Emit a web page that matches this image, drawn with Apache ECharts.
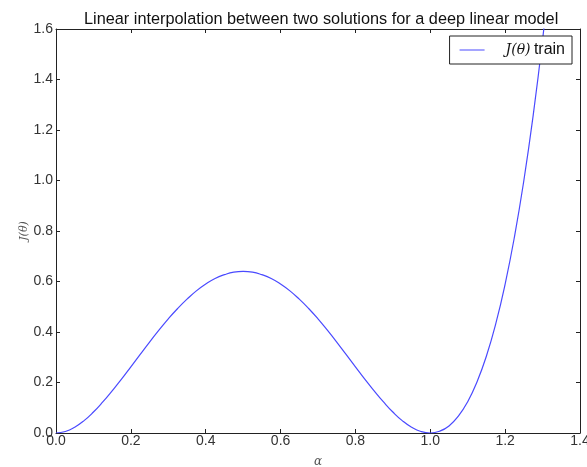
<!DOCTYPE html>
<html>
<head>
<meta charset="utf-8">
<script src="https://cdn.jsdelivr.net/npm/echarts@6/dist/echarts.min.js"></script>
<style>html,body{margin:0;padding:0;background:#fff;}#c{width:587px;height:467px;}</style>
</head>
<body>
<div id="c"></div>
<script>
const titleText = 'Linear interpolation between two solutions for a deep linear model';
const seriesName = 'J(θ) train';
const xTicks = [0.0, 0.2, 0.4, 0.6, 0.8, 1.0, 1.2, 1.4];
const yTicks = [0.0, 0.2, 0.4, 0.6, 0.8, 1.0, 1.2, 1.4, 1.6];
const alpha = [0, 0.025, 0.05, 0.075, 0.1, 0.125, 0.15, 0.175, 0.2, 0.225, 0.25, 0.275, 0.3, 0.325, 0.35, 0.375, 0.4, 0.425, 0.45, 0.475, 0.5,
  0.525, 0.55, 0.575, 0.6, 0.625, 0.65, 0.675, 0.7, 0.725, 0.75, 0.775, 0.8, 0.825, 0.85, 0.875, 0.9, 0.925, 0.95, 0.975, 1.0,
  1.025, 1.05, 1.075, 1.1, 1.125, 1.15, 1.175, 1.2, 1.225, 1.25, 1.275, 1.3, 1.325];
const cost = [0, 0.006, 0.023, 0.049, 0.083, 0.123, 0.167, 0.213, 0.262, 0.311, 0.360, 0.407, 0.452, 0.493, 0.530, 0.563, 0.590, 0.612, 0.627, 0.637, 0.640,
  0.637, 0.627, 0.612, 0.590, 0.563, 0.530, 0.493, 0.452, 0.407, 0.360, 0.311, 0.262, 0.213, 0.167, 0.123, 0.083, 0.049, 0.023, 0.006, 0,
  0.007, 0.028, 0.067, 0.124, 0.203, 0.305, 0.433, 0.590, 0.778, 1.000, 1.259, 1.557, 1.899];

const chart = echarts.init(document.getElementById('c'), null, {renderer: 'canvas'});
const labelColor = '#333';
const fontFam = '"Liberation Sans", Arial, sans-serif';
chart.setOption({
  animation: false,
  backgroundColor: '#fff',
  title: {
    text: titleText, left: 79, top: 7,
    textStyle: {fontFamily: fontFam, fontSize: 16.3, fontWeight: 'normal', color: '#111'}
  },
  legend: {
    right: 15, top: 36, orient: 'vertical',
    data: [seriesName],
    backgroundColor: '#fff', borderColor: '#222', borderWidth: 1, borderRadius: 0,
    padding: [6, 7, 6, 10], itemWidth: 25, itemHeight: 10, itemGap: 4,
    icon: 'path://M0,5L25,5L25,6L0,6Z',
    formatter: function () { return '{i|J(θ)} {t|train}'; },
    textStyle: {
      rich: {
        i: {fontFamily: '"DejaVu Serif", serif', fontStyle: 'italic', fontSize: 14, color: '#111', padding: [0, 0, 0, 16]},
        t: {fontFamily: fontFam, fontSize: 16, color: '#111'}
      }
    }
  },
  grid: {left: 56, right: 7, top: 29, bottom: 34, outerBoundsMode: 'none', containLabel: false},
  xAxis: [{
    type: 'value', min: 0, max: 1.4, interval: 0.2,
    name: 'α', nameLocation: 'middle', nameGap: 23, nameMoveOverlap: false,
    nameTextStyle: {fontFamily: '"DejaVu Serif", serif', fontStyle: 'italic', fontSize: 12, color: '#555'},
    axisLine: {show: true, onZero: false, lineStyle: {color: '#222', width: 1}},
    axisTick: {show: true, inside: true, length: 4, lineStyle: {color: '#222'}},
    axisLabel: {fontFamily: fontFam, fontSize: 14, color: labelColor, margin: 1,
      formatter: v => v.toFixed(1)},
    splitLine: {show: false}
  }, {
    type: 'value', min: 0, max: 1.4, interval: 0.2, position: 'top',
    axisLine: {show: true, onZero: false, lineStyle: {color: '#222', width: 1}},
    axisTick: {show: true, inside: true, length: 4, lineStyle: {color: '#222'}},
    axisLabel: {show: false}, splitLine: {show: false}
  }],
  yAxis: [{
    type: 'value', min: 0, max: 1.6, interval: 0.2,
    name: 'J(θ)', nameLocation: 'middle', nameGap: 26, nameRotate: 90, nameMoveOverlap: false,
    nameTextStyle: {fontFamily: '"DejaVu Serif", serif', fontStyle: 'italic', fontSize: 11, color: '#555'},
    axisLine: {show: true, onZero: false, lineStyle: {color: '#222', width: 1}},
    axisTick: {show: true, inside: true, length: 4, lineStyle: {color: '#222'}},
    axisLabel: {fontFamily: fontFam, fontSize: 14, color: labelColor, margin: 3,
      formatter: v => v.toFixed(1)},
    splitLine: {show: false}
  }, {
    type: 'value', min: 0, max: 1.6, interval: 0.2, position: 'right',
    axisLine: {show: true, onZero: false, lineStyle: {color: '#222', width: 1}},
    axisTick: {show: true, inside: true, length: 4, lineStyle: {color: '#222'}},
    axisLabel: {show: false}, splitLine: {show: false}
  }],
  series: [{
    name: seriesName, type: 'line', xAxisIndex: 0, yAxisIndex: 0,
    data: alpha.map((a, i) => [a, cost[i]]),
    smooth: true, showSymbol: false, symbol: 'none', clip: true,
    lineStyle: {color: '#4a4aff', width: 1.2},
    itemStyle: {color: '#4a4aff'}
  }]
});
</script>
</body>
</html>
